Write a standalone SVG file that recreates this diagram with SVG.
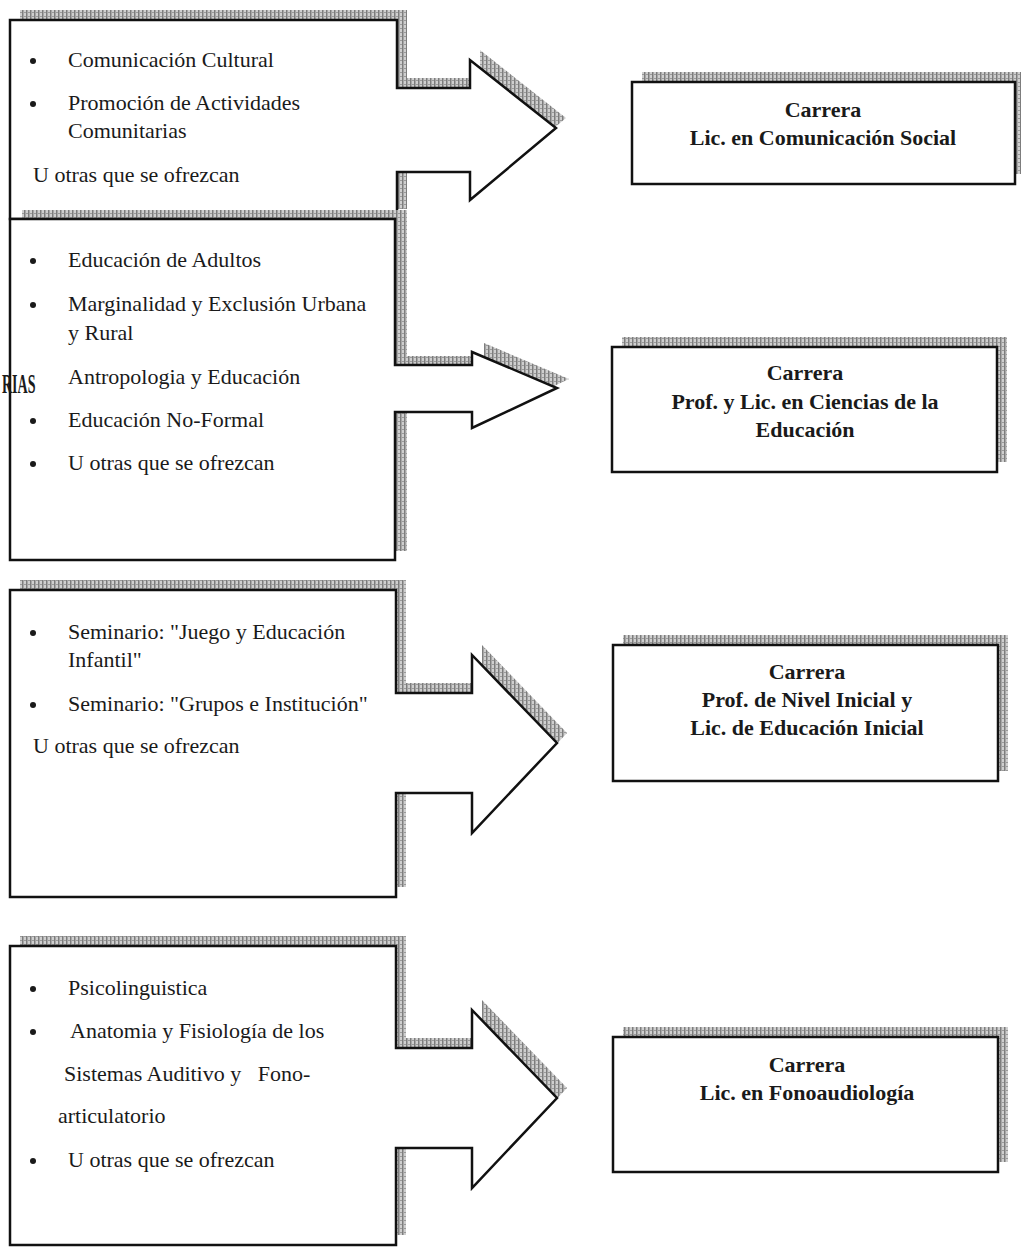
<svg xmlns="http://www.w3.org/2000/svg" width="1021" height="1250" viewBox="0 0 1021 1250">
<defs>
<pattern id="hatch" width="4" height="4" patternUnits="userSpaceOnUse">
<rect width="4" height="4" fill="#cfcfcf"/>
<rect x="0" y="0" width="1.5" height="4" fill="#7d7d7d"/>
<rect x="2" y="2" width="2" height="1" fill="#9a9a9a"/>
</pattern>
<style>
.shadow{fill:url(#hatch);stroke:none}
.shape{fill:#ffffff;stroke:#111;stroke-width:2.5;stroke-linejoin:miter}
.t{font-family:"Liberation Serif","Times New Roman",serif;font-size:22px;fill:#1a1a1a}
.b{font-family:"Liberation Serif","Times New Roman",serif;font-size:22px;font-weight:bold;fill:#1a1a1a;text-anchor:middle}
.dot{fill:#1a1a1a}
</style>
</defs>
<rect width="1021" height="1250" fill="#ffffff"/>

<g id="block1">
<path class="shadow" transform="translate(10,-10)" d="M10,20 H397 V88 H470 V60 L556,128 L470,200 V172 H397 V219 H10 Z"/>
<path class="shape" d="M10,20 H397 V88 H470 V60 L556,128 L470,200 V172 H397 V219 H10 Z"/>
<circle class="dot" cx="33" cy="61" r="3"/>
<text class="t" x="68" y="67">Comunicación Cultural</text>
<circle class="dot" cx="33" cy="104" r="3"/>
<text class="t" x="68" y="110">Promoción de Actividades</text>
<text class="t" x="68" y="138">Comunitarias</text>
<text class="t" x="33" y="182">U otras que se ofrezcan</text>
</g>

<g id="block2">
<path class="shadow" transform="translate(12,-9)" d="M10,219 H395 V365 H472 V352 L557,388 L472,428 V412 H395 V560 H10 Z"/>
<path class="shape" d="M10,219 H395 V365 H472 V352 L557,388 L472,428 V412 H395 V560 H10 Z"/>
<circle class="dot" cx="33" cy="261" r="3"/>
<text class="t" x="68" y="267">Educación de Adultos</text>
<circle class="dot" cx="33" cy="305" r="3"/>
<text class="t" x="68" y="311">Marginalidad y Exclusión Urbana</text>
<text class="t" x="68" y="340">y Rural</text>
<text class="t" x="68" y="384">Antropologia y Educación</text>
<circle class="dot" cx="33" cy="421" r="3"/>
<text class="t" x="68" y="427">Educación No-Formal</text>
<circle class="dot" cx="33" cy="464" r="3"/>
<text class="t" x="68" y="470">U otras que se ofrezcan</text>
<text transform="translate(2,393) scale(0.5,1)" style="font-family:'Liberation Serif','Times New Roman',serif;font-size:28px;font-weight:bold;fill:#1a1a1a">RIAS</text>
</g>

<g id="block3">
<path class="shadow" transform="translate(10,-10)" d="M10,590 H396 V693 H472 V655 L557,743 L472,833 V793 H396 V897 H10 Z"/>
<path class="shape" d="M10,590 H396 V693 H472 V655 L557,743 L472,833 V793 H396 V897 H10 Z"/>
<circle class="dot" cx="33" cy="633" r="3"/>
<text class="t" x="68" y="639">Seminario: "Juego y Educación</text>
<text class="t" x="68" y="667">Infantil"</text>
<circle class="dot" cx="33" cy="705" r="3"/>
<text class="t" x="68" y="711">Seminario: "Grupos e Institución"</text>
<text class="t" x="33" y="753">U otras que se ofrezcan</text>
</g>

<g id="block4">
<path class="shadow" transform="translate(10,-10)" d="M10,946 H396 V1048 H472 V1010 L557,1098 L472,1188 V1148 H396 V1245 H10 Z"/>
<path class="shape" d="M10,946 H396 V1048 H472 V1010 L557,1098 L472,1188 V1148 H396 V1245 H10 Z"/>
<circle class="dot" cx="33" cy="989" r="3"/>
<text class="t" x="68" y="995">Psicolinguistica</text>
<circle class="dot" cx="33" cy="1032" r="3"/>
<text class="t" x="70" y="1038">Anatomia y Fisiología de los</text>
<text class="t" x="64" y="1081" xml:space="preserve">Sistemas Auditivo y   Fono-</text>
<text class="t" x="58" y="1123">articulatorio</text>
<circle class="dot" cx="33" cy="1161" r="3"/>
<text class="t" x="68" y="1167">U otras que se ofrezcan</text>
</g>

<g id="careerA">
<rect class="shadow" x="642" y="72" width="383" height="102"/>
<rect class="shape" x="632" y="82" width="383" height="102"/>
<text class="b" x="823" y="117">Carrera</text>
<text class="b" x="823" y="145">Lic. en Comunicación Social</text>
</g>

<g id="careerB">
<rect class="shadow" x="622" y="337" width="385" height="125"/>
<rect class="shape" x="612" y="347" width="385" height="125"/>
<text class="b" x="805" y="380">Carrera</text>
<text class="b" x="805" y="409">Prof. y Lic. en Ciencias de la</text>
<text class="b" x="805" y="437">Educación</text>
</g>

<g id="careerC">
<rect class="shadow" x="623" y="635" width="385" height="136"/>
<rect class="shape" x="613" y="645" width="385" height="136"/>
<text class="b" x="807" y="679">Carrera</text>
<text class="b" x="807" y="707">Prof. de Nivel Inicial y</text>
<text class="b" x="807" y="735">Lic. de Educación Inicial</text>
</g>

<g id="careerD">
<rect class="shadow" x="623" y="1027" width="385" height="135"/>
<rect class="shape" x="613" y="1037" width="385" height="135"/>
<text class="b" x="807" y="1072">Carrera</text>
<text class="b" x="807" y="1100">Lic. en Fonoaudiología</text>
</g>

<g id="connectors"></g>
</svg>
